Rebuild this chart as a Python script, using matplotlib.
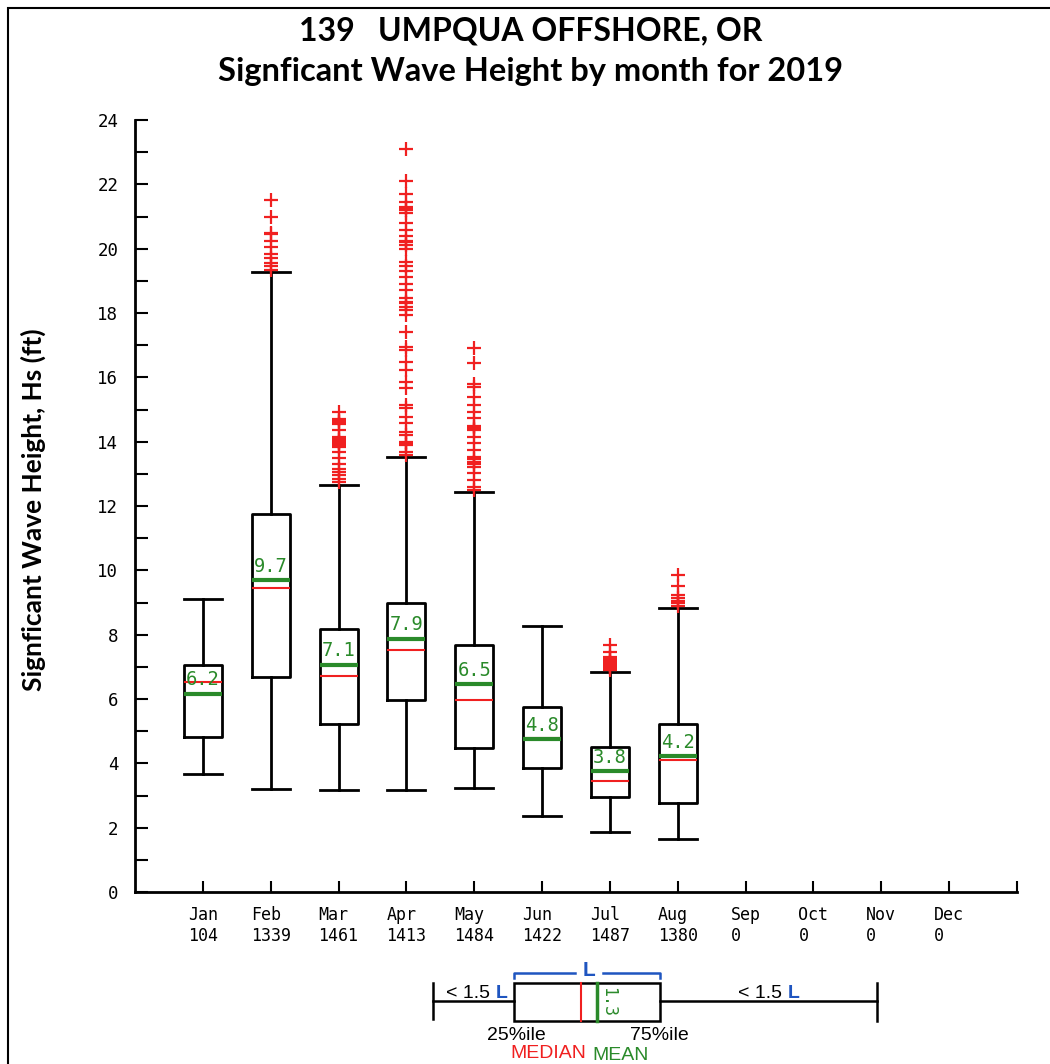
import matplotlib
matplotlib.use("Agg")
from matplotlib import pyplot as plt
from matplotlib.patches import Rectangle

months = ['Jan', 'Feb', 'Mar', 'Apr', 'May', 'Jun', 'Jul', 'Aug', 'Sep', 'Oct', 'Nov', 'Dec']
counts = [104, 1339, 1461, 1413, 1484, 1422, 1487, 1380, 0, 0, 0, 0]

# box stats for the months that have data (Jan..Aug)
q1 = [4.82, 6.68, 5.22, 5.97, 4.49, 3.86, 2.96, 2.77]
q3 = [7.05, 11.75, 8.18, 8.99, 7.69, 5.75, 4.50, 5.23]
medians = [6.54, 9.46, 6.71, 7.52, 5.97, 4.79, 3.45, 4.09]
means = [6.17, 9.70, 7.07, 7.88, 6.46, 4.76, 3.77, 4.23]
whis_lo = [3.67, 3.20, 3.17, 3.17, 3.22, 2.37, 1.87, 1.64]
whis_hi = [9.10, 19.27, 12.65, 13.52, 12.43, 8.27, 6.84, 8.84]

fliers_jan = []
fliers_feb = [19.35, 19.45, 19.55, 19.7, 19.83, 20.06, 20.25, 20.45, 20.5, 20.97, 21.5]
fliers_mar = [12.75, 12.85, 12.95, 13.05, 13.15, 13.3, 13.49, 13.68, 13.83, 13.9, 13.95,
              14.0, 14.05, 14.1, 14.15, 14.35, 14.55, 14.6, 14.65, 14.7, 14.93]
fliers_apr = [13.58, 13.68, 13.9, 13.95, 14.0, 14.2, 14.3, 14.58, 14.77, 15.05, 15.14,
              15.66, 15.86, 16.23, 16.48, 16.85, 16.95, 17.4, 17.94, 18.1, 18.2, 18.3,
              18.35, 18.46, 18.7, 18.9, 19.12, 19.3, 19.45, 19.6, 20.0, 20.1, 20.2,
              20.25, 20.4, 20.58, 20.8, 21.1, 21.2, 21.25, 21.3, 21.46, 21.7, 22.1, 23.1]
fliers_may = [12.5, 12.6, 12.81, 13.02, 13.22, 13.3, 13.38, 13.45, 13.53, 13.74, 13.96,
              14.15, 14.36, 14.4, 14.45, 14.5, 14.73, 14.93, 15.14, 15.4, 15.7, 15.8,
              16.44, 16.9]
fliers_jun = []
fliers_jul = [6.9, 6.95, 7.0, 7.05, 7.1, 7.15, 7.2, 7.25, 7.31, 7.47, 7.68]
fliers_aug = [8.9, 8.97, 9.05, 9.13, 9.23, 9.51, 9.87]
fliers = [fliers_jan, fliers_feb, fliers_mar, fliers_apr,
          fliers_may, fliers_jun, fliers_jul, fliers_aug]

RED = '#f02020'
GREEN = '#2a8a2a'
BLUE = '#1f55c0'
MONO = 'DejaVu Sans Mono'
SANS = 'Liberation Sans'

fig = plt.figure(figsize=(10.5, 10.64), dpi=100)

# outer frame (only top and left edges visible in the crop)
fig.patches.append(Rectangle((8 / 1050, -0.1), 1.2, 1.1 - 8 / 1064,
                             transform=fig.transFigure, fill=False,
                             edgecolor='black', linewidth=1.5))

fig.text(0.505, 0.971, '139   UMPQUA OFFSHORE, OR', ha='center', va='center',
         fontsize=23, fontweight='bold', family='Lato')
fig.text(0.505, 0.933, 'Signficant Wave Height by month for 2019', ha='center', va='center',
         fontsize=23.5, fontweight='bold', family='Lato')

ax = fig.add_axes([135 / 1050, 1 - 892 / 1064, 882 / 1050, 772 / 1064])

stats = []
for i in range(len(q1)):
    stats.append(dict(med=medians[i], q1=q1[i], q3=q3[i], whislo=whis_lo[i],
                      whishi=whis_hi[i], mean=means[i], fliers=fliers[i]))

positions = list(range(1, len(q1) + 1))
ax.bxp(stats, positions=positions, widths=0.56, showmeans=True, meanline=True,
       boxprops=dict(color='black', linewidth=2),
       whiskerprops=dict(color='black', linewidth=2),
       capprops=dict(color='black', linewidth=2),
       medianprops=dict(color=RED, linewidth=1.5),
       meanprops=dict(color=GREEN, linewidth=3, linestyle='-'),
       flierprops=dict(marker='+', markeredgecolor=RED, markersize=10,
                       markeredgewidth=1.6, linestyle='none'),
       capwidths=0.56, manage_ticks=False)

for p, m in zip(positions, means):
    ax.annotate(f"{m:.1f}", (p, m), xytext=(0, 3), textcoords='offset points',
                ha='center', va='bottom', color=GREEN, fontsize=13.5, family=MONO)

ax.set_xlim(0, 13)
ax.set_ylim(0, 24)
ax.set_xticks(range(1, 14))
ax.set_xticklabels([f"{m}\n{c}" for m, c in zip(months, counts)] + [''],
                   multialignment='left', family=MONO, fontsize=12, linespacing=1.25)
ax.set_yticks(range(0, 25, 2))
ax.set_yticks(range(1, 24, 2), minor=True)
ax.set_yticklabels([str(v) for v in range(0, 25, 2)], family=MONO, fontsize=12.5)
ax.tick_params(axis='x', direction='in', length=8, width=1.5, pad=10)
ax.tick_params(axis='y', which='major', direction='in', length=9, width=1.5, pad=12)
ax.tick_params(axis='y', which='minor', direction='in', length=9, width=1.5)
for s in ['top', 'right']:
    ax.spines[s].set_visible(False)
for s in ['left', 'bottom']:
    ax.spines[s].set_linewidth(2)
ax.set_ylabel('Signficant Wave Height, Hs (ft)', fontsize=19, family='Lato',
              fontweight='bold')
ax.yaxis.set_label_coords(-0.101, 0.495)

# schematic key below the chart, laid out in its own pixel-like coordinates
key = fig.add_axes([400 / 1050, 0, 520 / 1050, 100 / 1064])
key.set_xlim(400, 920)
key.set_ylim(1064, 964)
key.axis('off')
box_l, box_r, box_t, box_b, mid = 514, 660, 983, 1021, 1001
cap_l, cap_r = 433, 877
kw = dict(color='black', linewidth=1.8)
key.plot([cap_l, box_l], [mid, mid], **kw)
key.plot([box_r, cap_r], [mid, mid], **kw)
key.plot([cap_l, cap_l], [983, 1019], **kw)
key.plot([cap_r, cap_r], [983, 1021], **kw)
key.add_patch(Rectangle((box_l, box_t), box_r - box_l, box_b - box_t,
                        fill=False, edgecolor='black', linewidth=1.8))
key.plot([581, 581], [box_t, box_b], color=RED, linewidth=1.5)
key.plot([597, 597], [box_t, box_b], color=GREEN, linewidth=2.5)
key.text(608, 1002, '1.3', rotation=-90, ha='center', va='center',
         color=GREEN, fontsize=12, family=MONO)
key.plot([box_l, box_l, 575], [978, 973, 973], color=BLUE, linewidth=1.8)
key.plot([603, box_r, box_r], [973, 973, 978], color=BLUE, linewidth=1.8)
key.text(589, 971, 'L', ha='center', va='center', color=BLUE, fontsize=15,
         fontweight='bold', family=SANS)
for x0 in (446, 738):
    t = key.text(x0, 994, '< 1.5 ', ha='left', va='center', fontsize=14, family=SANS)
    key.annotate('L', xycoords=t, xy=(1, 0), va='bottom', ha='left',
                 color=BLUE, fontsize=14, fontweight='bold', family=SANS)
key.text(516, 1036, '25%ile', ha='center', va='center', fontsize=14, family=SANS)
key.text(659, 1036, '75%ile', ha='center', va='center', fontsize=14, family=SANS)
key.text(548, 1053, 'MEDIAN', ha='center', va='center', color=RED, fontsize=14,
         family=SANS)
key.text(621, 1056, 'MEAN', ha='center', va='center', color=GREEN, fontsize=14,
         family=SANS)

fig.savefig('out.png', dpi=100)
